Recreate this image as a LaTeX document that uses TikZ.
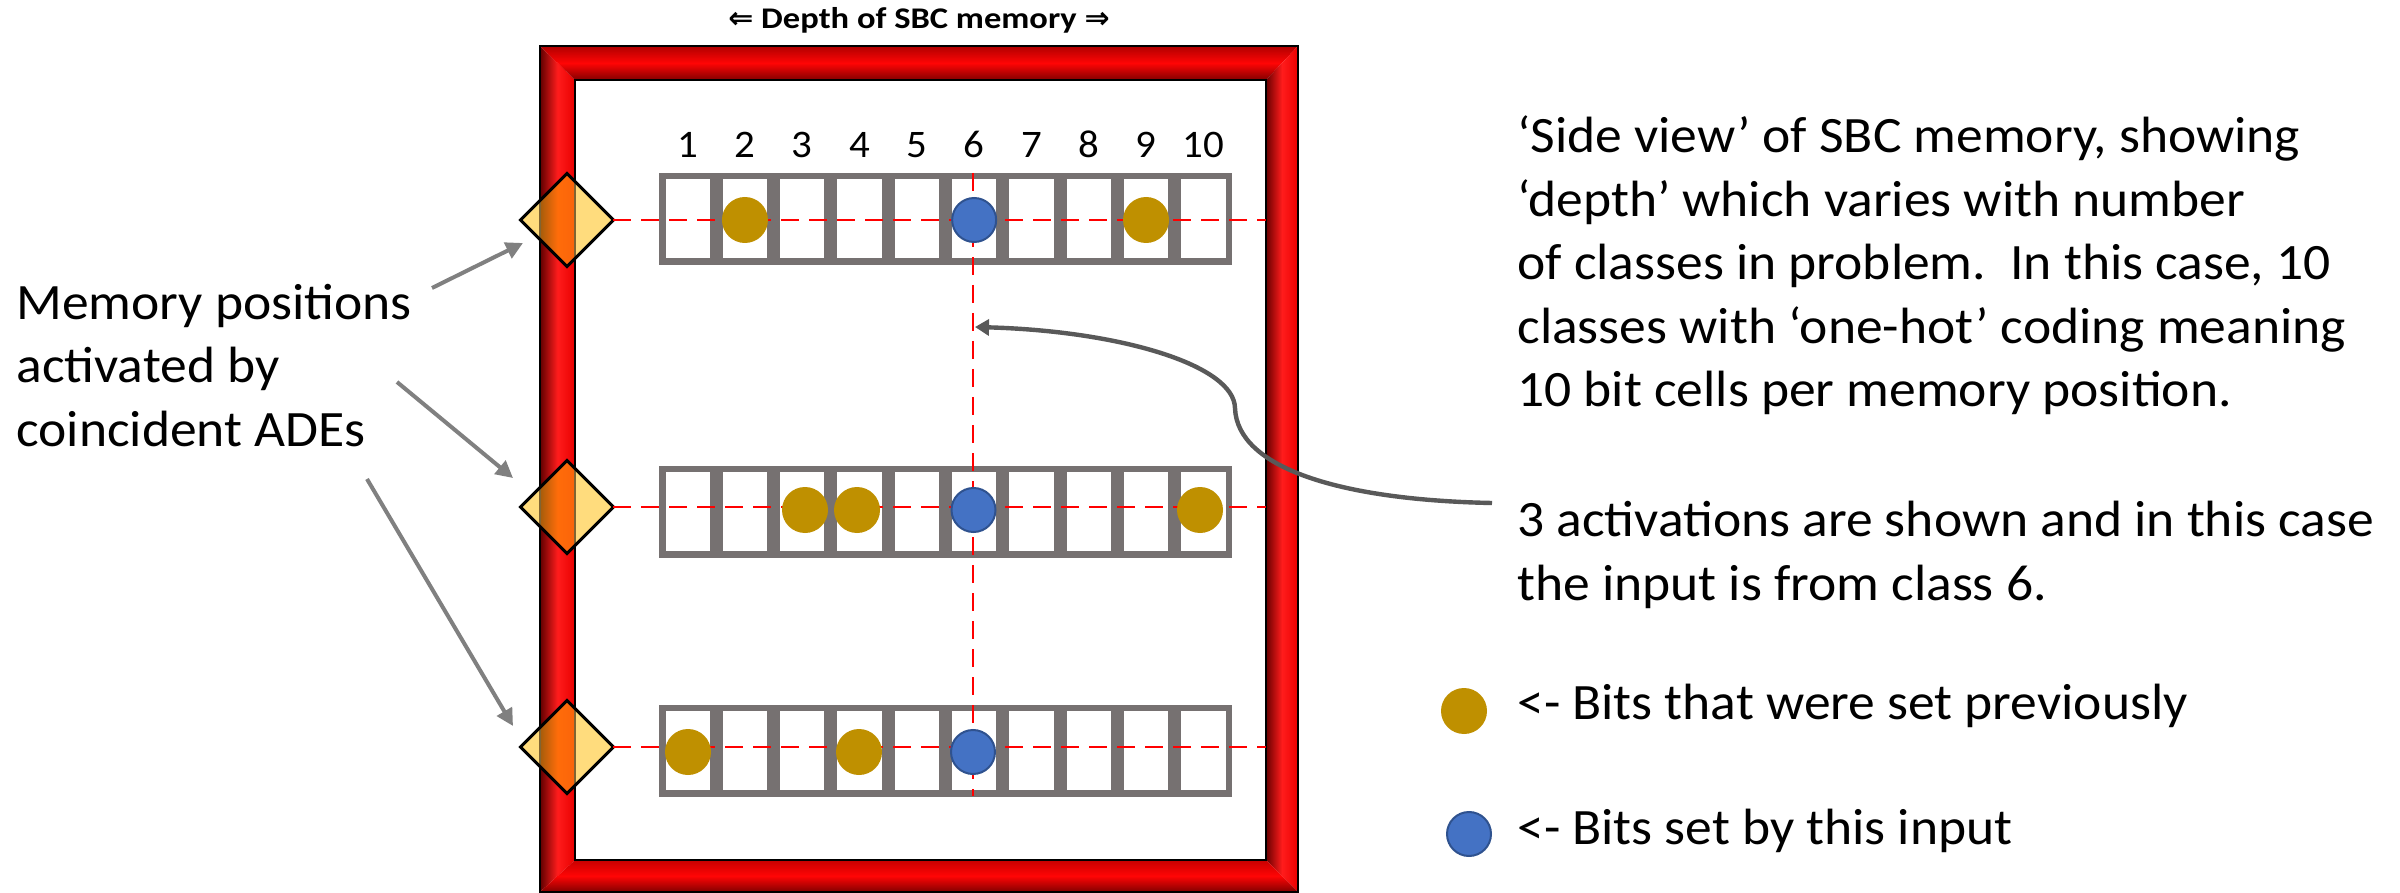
\documentclass[tikz,border=0pt]{standalone}
\usepackage{fontspec}
\setmainfont{Carlito}[FakeStretch=1.05]
\newfontfamily\titlefont{Carlito}[FakeStretch=1.15]
\newfontfamily\dejavu{DejaVu Sans}[FakeStretch=1.0]
\usetikzlibrary{arrows.meta,shapes.geometric}
\definecolor{cellgray}{RGB}{118,113,113}
\definecolor{goldbit}{RGB}{191,144,0}
\definecolor{bitblue}{RGB}{68,114,196}
\definecolor{bitblueline}{RGB}{47,82,143}
\definecolor{dmdfill}{RGB}{255,220,125}
\definecolor{arrowgray}{RGB}{128,128,128}
\definecolor{curvegray}{RGB}{89,89,89}
\begin{document}
\begin{tikzpicture}[x=0.5pt,y=-0.5pt,
  cell/.style={draw=cellgray, fill=white, line width=3.25pt, rectangle, inner sep=0pt,
    minimum width=25.4pt, minimum height=42.75pt},
  goldb/.style={circle, fill=goldbit, inner sep=0pt, minimum size=23pt},
  blueb/.style={circle, fill=bitblue, draw=bitblueline, line width=1pt, inner sep=0pt, minimum size=22pt},
  dmd/.style={diamond, aspect=1, fill=dmdfill, inner sep=0pt, minimum width=46pt, minimum height=46pt},
  reddash/.style={draw=red, line width=1.4pt, dash pattern=on 9pt off 5pt},
  bodytext/.style={font=\fontsize{25.5}{31.75}\selectfont, inner sep=0pt, align=left},
  numlbl/.style={font=\fontsize{19.5}{23}\selectfont, inner sep=0pt},
  pointer/.style={draw=arrowgray, line width=2pt, -{Triangle[length=8.5pt,width=8.5pt]}},
  curvearrow/.style={draw=curvegray, line width=2.2pt, -{Triangle[length=7pt,width=8pt]}}
]
\useasboundingbox (0,0) rectangle (2400,893);
\fill[white] (0,0) rectangle (2400,893);

% ---- frame ----
\fill[white] (575,80) rectangle (1266,860);
\shade[left color={rgb,255:red,96;green,0;blue,0}, right color={rgb,255:red,232;green,0;blue,0}, middle color={rgb,255:red,255;green,28;blue,28}]
  (540,46) -- (575,80) -- (575,860) -- (540,892) -- cycle;
\shade[top color={rgb,255:red,176;green,0;blue,0}, bottom color={rgb,255:red,130;green,0;blue,0}, middle color={rgb,255:red,255;green,5;blue,5}]
  (540,46) -- (1298,46) -- (1266,80) -- (575,80) -- cycle;
\shade[left color={rgb,255:red,105;green,0;blue,0}, right color={rgb,255:red,235;green,0;blue,0}, middle color={rgb,255:red,255;green,28;blue,28}]
  (1266,80) -- (1298,46) -- (1298,892) -- (1266,860) -- cycle;
\shade[top color={rgb,255:red,200;green,0;blue,0}, bottom color={rgb,255:red,128;green,0;blue,0}, middle color={rgb,255:red,255;green,5;blue,5}]
  (575,860) -- (1266,860) -- (1298,892) -- (540,892) -- cycle;
\draw[black, line width=1pt] (540,46) rectangle (1298,892);
\draw[black, line width=1.3pt] (575,80) rectangle (1266,860);
\coordinate (frin) at (1266,0);

% ---- title ----
\node[font=\titlefont\bfseries\fontsize{15}{18}\selectfont, inner sep=0pt, anchor=base] (title) at (919,29)
  {{\dejavu\bfseries ⇐} Depth of SBC memory {\dejavu\bfseries ⇒}};

% ---- cells ----
\foreach \r/\yy in {1/219,2/511.5,3/750.5}{
  \foreach \k in {1,...,10}{
    \node[cell] (r\r-\k) at ({659+57.3*(\k-0.5)},\yy) {};
  }
}
\coordinate (numbase) at (0,158);
\foreach \k in {1,...,10}{
  \node[numlbl, anchor=base] (n\k) at (r1-\k.center |- numbase) {\k};
}

% ---- diamonds with frame showing through ----
\foreach \i/\yy in {1/220,2/507,3/747}{
  \node[dmd] (d\i) at (567,\yy) {};
  \begin{scope}
    \clip (d\i.north) -- (d\i.east) -- (d\i.south) -- (d\i.west) -- cycle;
    \shade[left color={rgb,255:red,165;green,92;blue,10}, right color={rgb,255:red,250;green,100;blue,10}, middle color={rgb,255:red,255;green,108;blue,10}]
      (540,0) rectangle (575,893);
    \draw[draw={rgb,255:red,128;green,100;blue,50}, line width=1.3pt] (575,0) -- (575,893);
    \draw[draw={rgb,255:red,128;green,100;blue,50}, line width=1pt] (540,0) -- (540,893);
  \end{scope}
  \draw[black, line width=1.5pt, line join=miter] (d\i.north) -- (d\i.east) -- (d\i.south) -- (d\i.west) -- cycle;
  \draw[reddash] (d\i.east) -- (d\i.east -| frin);
}

% ---- vertical dashed line at class 6 ----
\coordinate (vtop) at (973,173);
\coordinate (vbot) at (973,796);
\draw[reddash] (vtop) -- (vbot);

% ---- bits ----
\node[goldb] (b1a) at (r1-2.center |- d1) {};
\node[blueb] (b1b) at (r1-6.center |- d1) {};
\node[goldb] (b1c) at (r1-9.center |- d1) {};
\node[goldb] (b2a) at (805,510) {};
\node[goldb] (b2b) at (857,510) {};
\node[blueb] (b2c) at (973.5,510) {};
\node[goldb] (b2d) at (1200,510) {};
\node[goldb] (b3a) at (688,752) {};
\node[goldb] (b3b) at (859,752) {};
\node[blueb] (b3c) at (973,752) {};

% ---- left text and arrows (base = last line) ----
\node[bodytext, anchor=base west] (lefttext) at (16,446)
  {Memory positions\\activated by\\coincident ADEs};
\coordinate (t1) at (432,288);  \coordinate (h1) at (523,243);
\coordinate (t2) at (397,382);  \coordinate (h2) at (513,478);
\coordinate (t3) at (367,479);  \coordinate (h3) at (513,726);
\draw[pointer] (t1) -- (h1);
\draw[pointer] (t2) -- (h2);
\draw[pointer] (t3) -- (h3);

% ---- right text (base = last line) ----
\node[bodytext, anchor=base west] (sideview) at (1517,407)
  {‘Side view’ of SBC memory, showing\\‘depth’ which varies with number\\of classes in problem.\ \ In this case, 10\\classes with ‘one-hot’ coding meaning\\10 bit cells per memory position.};
\node[bodytext, anchor=base west] (activ) at (1517,600)
  {3 activations are shown and in this case\\the input is from class 6.};

% ---- curved arrow ----
\coordinate (ctail) at (1492,503);
\coordinate (cmid) at (1235,408);
\coordinate (ctip) at (975,327);
\draw[curvearrow] (ctail) .. controls (1340,500) and (1237,468) .. (cmid)
  .. controls (1234,365) and (1120,331) .. (ctip);

% ---- legend ----
\node[goldb] (lg1) at (1464,711) {};
\node[bodytext, anchor=base west] (lt1) at (1517,719) {<- Bits that were set previously};
\node[blueb] (lg2) at (1469,834) {};
\node[bodytext, anchor=base west] (lt2) at (1517,844) {<- Bits set by this input};
\end{tikzpicture}
\end{document}
